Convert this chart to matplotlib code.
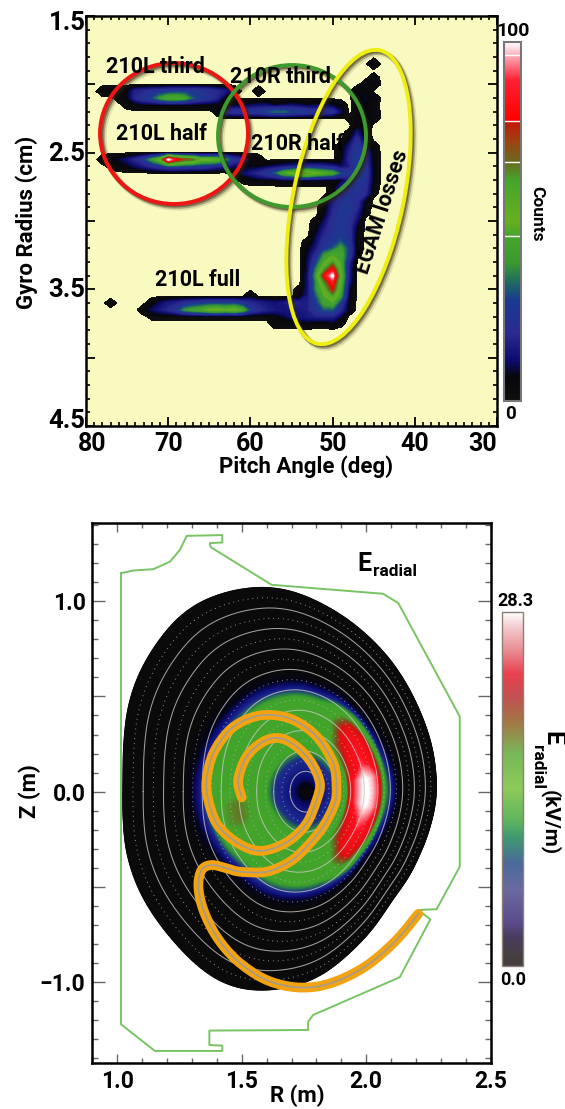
import numpy as np
import matplotlib
matplotlib.use('Agg')
import matplotlib.pyplot as plt
from matplotlib.colors import LinearSegmentedColormap, Normalize
from matplotlib.cm import ScalarMappable
from matplotlib.patches import Ellipse, PathPatch
from matplotlib.path import Path
from matplotlib.ticker import MultipleLocator, FixedLocator
from matplotlib.transforms import ScaledTranslation

FONT = ['Roboto', 'Liberation Sans', 'DejaVu Sans']
plt.rcParams['font.family'] = FONT
plt.rcParams['font.weight'] = 'bold'

# ---------- top panel data: counts on a (pitch angle, gyro radius) grid ----------
pitch_angles = np.arange(80, 29, -1)
gyro_radii = np.round(np.arange(1.5, 4.5001, 0.05), 2)
# each row: gyro radius, first pitch angle, counts at 1 degree steps downwards
count_rows = [
    (1.85, 45, [6]),
    (1.95, 45, [3]),
    (2.00, 46, [3, 6]),
    (2.05, 78, [4, 5, 4, 6, 16, 18, 20, 22, 24, 26, 26, 26, 24, 22, 18, 14, 6, 0, 0, 4, 0, 0, 0, 0, 0, 0, 0, 0, 0, 0, 0, 6, 6]),
    (2.10, 76, [3, 6, 18, 24, 28, 38, 46, 46, 42, 30, 26, 22, 16, 4, 0, 0, 0, 0, 0, 0, 0, 0, 0, 0, 0, 0, 0, 0, 0, 4, 8, 5]),
    (2.15, 75, [3, 4, 6, 6, 6, 6, 6, 6, 6, 5, 5, 5, 5, 6, 6, 8, 10, 10, 6, 8, 10, 8, 6, 8, 10, 6, 4, 0, 3, 6, 3]),
    (2.20, 64, [3, 20, 22, 22, 24, 24, 28, 32, 32, 28, 26, 24, 22, 22, 20, 10, 0, 3, 7, 4]),
    (2.25, 48, [2, 5, 8, 4]),
    (2.30, 48, [0, 5, 5]),
    (2.35, 48, [2, 12, 3]),
    (2.40, 48, [5, 20, 5]),
    (2.45, 49, [3, 12, 24, 10, 3]),
    (2.50, 49, [4, 16, 26, 18, 4]),
    (2.55, 78, [3, 6, 8, 12, 18, 26, 38, 50, 100, 80, 70, 66, 50, 50, 48, 36, 22, 18, 6, 4, 0, 0, 0, 0, 0, 0, 0, 0, 0, 4, 18, 28, 20, 5]),
    (2.60, 77, [2, 4, 6, 10, 14, 18, 22, 26, 26, 24, 22, 22, 20, 16, 14, 10, 8, 6, 6, 8, 10, 12, 14, 16, 18, 18, 16, 14, 10, 14, 26, 22, 5]),
    (2.65, 62, [3, 10, 14, 18, 24, 30, 44, 50, 58, 58, 50, 46, 42, 28, 24, 28, 24, 5]),
    (2.70, 61, [2, 4, 6, 6, 6, 8, 8, 8, 8, 8, 6, 6, 6, 14, 26, 22, 6]),
    (2.75, 50, [3, 14, 22, 24, 20, 3]),
    (2.80, 50, [4, 16, 22, 24, 18, 2]),
    (2.85, 51, [3, 14, 22, 24, 20, 6]),
    (2.90, 51, [4, 16, 24, 26, 18, 3]),
    (2.95, 51, [6, 18, 26, 24, 14, 2]),
    (3.00, 52, [3, 10, 22, 26, 22, 10]),
    (3.05, 52, [5, 14, 22, 26, 20, 6]),
    (3.10, 52, [8, 18, 24, 26, 22, 4]),
    (3.15, 53, [3, 10, 22, 26, 30, 22, 3]),
    (3.20, 53, [6, 14, 24, 30, 40, 26, 3]),
    (3.25, 53, [8, 20, 38, 46, 44, 24, 2]),
    (3.30, 53, [10, 26, 46, 60, 44, 16]),
    (3.35, 53, [10, 34, 58, 80, 46, 14]),
    (3.40, 53, [12, 40, 80, 100, 50, 14]),
    (3.45, 53, [12, 36, 62, 84, 46, 12]),
    (3.50, 54, [3, 12, 36, 52, 76, 42, 8]),
    (3.55, 60, [6, 0, 0, 0, 0, 0, 5, 14, 30, 46, 58, 38, 6]),
    (3.60, 77, [3, 0, 0, 0, 0, 4, 10, 14, 16, 20, 22, 24, 26, 26, 26, 26, 22, 18, 16, 14, 12, 14, 18, 16, 16, 24, 42, 44, 24, 5]),
    (3.65, 73, [4, 10, 14, 18, 24, 36, 42, 44, 50, 52, 48, 52, 44, 26, 20, 16, 14, 14, 14, 14, 16, 24, 30, 30, 18, 5]),
    (3.70, 72, [2, 2, 2, 2, 2, 2, 2, 2, 2, 2, 2, 2, 2, 2, 2, 4, 8, 12, 14, 14, 16, 16, 16, 8]),
    (3.75, 57, [4, 3, 3, 4, 6, 3, 3, 6, 2]),
]
count_stops = [(0, '#101010'), (.067, '#06060c'), (.114, '#0c0c70'), (.19, '#2a2a90'), (.28, '#1a3a90'),
               (.33, '#1f6a60'), (.385, '#3a9a30'), (.46, '#45a52a'), (.50, '#66b020'), (.616, '#45a52a'),
               (.666, '#6a6a20'), (.727, '#a04010'), (.775, '#c01a08'), (.785, '#ff0000'), (.894, '#ff2030'),
               (.95, '#ff90a0'), (1, '#ffffff')]
count_bar_marks = [96.4, 78, 66.7, 46]
pitch_ticks = [80, 70, 60, 50, 40, 30]

# ---------- bottom panel data ----------
boundary_R = [2.285, 2.276, 2.256, 2.216, 2.162, 2.095, 2.027, 1.961, 1.894, 1.827, 1.694, 1.573, 1.453, 1.332, 1.239, 1.145, 1.078, 1.038, 1.024, 1.022,
              1.022, 1.031, 1.058, 1.104, 1.185, 1.292, 1.386, 1.480, 1.573, 1.653, 1.747, 1.827, 1.935, 2.028, 2.095, 2.175, 2.242, 2.276]
boundary_Z = [0.025, 0.166, 0.287, 0.429, 0.571, 0.702, 0.797, 0.875, 0.938, 0.989, 1.068, 1.085, 1.059, 1.007, 0.919, 0.761, 0.604, 0.429, 0.236, -0.026,
              -0.131, -0.289, -0.428, -0.568, -0.726, -0.883, -0.988, -1.041, -1.053, -1.041, -1.015, -0.971, -0.848, -0.726, -0.586, -0.446, -0.254, -0.096]
rho_knots = [0, .03, .07, .15, .2, .25, .3, .4, .5, .55, .58, .62, .65, .68, .72, 1]
E_background = [0, 0.5, 4, 7, 8, 12, 14, 14, 14, 13, 10, 6, 3, 1, 0, 0]
ridge_rho = [.26, .29, .33, .37, .41, .46, .50, .53, .57]
ridge_weight = [0, .45, .7, .85, 1, .88, .72, .4, 0]
ridge_angle = [-180, -165, -150, -135, -120, -90, -80, -72, -60, -45, -30, -15, 0, 15, 30, 45, 60, 72, 80, 90, 150, 165, 180]
ridge_amp = [2.5, 4, 4, 2.5, 0, 0, 0, 3, 8, 10, 12, 15, 15.3, 15, 11, 10, 8, 3, 0, 0, 0, 1, 2.5]
centre_rho = [0, .25, .5, .75, 1]
centre_R = [1.76, 1.753, 1.732, 1.698, 1.65]
ellipse_half_R = 0.63
ellipse_half_Z = 1.07
solid_surfaces = [.1, .2, .3, .4, .5, .6, .7, .8, .9]
dotted_surfaces = [.15, .25, .35, .45, .55, .65, .75, .85, .95]

orbit_R = [1.50, 1.486, 1.520, 1.587, 1.653, 1.720, 1.781, 1.814, 1.801, 1.761, 1.694, 1.613, 1.546, 1.466, 1.399, 1.366,
           1.359, 1.386, 1.453, 1.533, 1.613, 1.707, 1.801, 1.868, 1.881, 1.874, 1.827, 1.761, 1.694, 1.600, 1.493, 1.439,
           1.379, 1.339, 1.326, 1.346, 1.399, 1.479, 1.586, 1.694, 1.801, 1.908, 2.015, 2.122, 2.209]
orbit_Z = [-0.03, 0.062, 0.185, 0.263, 0.281, 0.237, 0.150, 0.045, -0.044, -0.166, -0.254, -0.303, -0.306, -0.254, -0.166, -0.044,
           0.062, 0.202, 0.325, 0.386, 0.403, 0.377, 0.290, 0.150, 0.027, -0.061, -0.184, -0.289, -0.367, -0.420, -0.420, -0.402,
           -0.385, -0.411, -0.498, -0.621, -0.761, -0.884, -0.980, -1.023, -1.023, -0.980, -0.901, -0.778, -0.642]
wall_R = [1.015, 1.064, 1.145, 1.212, 1.252, 1.279, 1.422, 1.422, 1.372, 1.375, 1.620, 2.068, 2.129, 2.376, 2.376, 2.283, 2.209,
          2.258, 2.135, 1.787, 1.767, 1.767, 1.370, 1.370, 1.422, 1.422, 1.151, 1.015, 1.015]
wall_Z = [1.147, 1.161, 1.168, 1.208, 1.270, 1.343, 1.347, 1.308, 1.305, 1.284, 1.086, 1.039, 0.990, 0.395, -0.394, -0.617, -0.621,
          -0.670, -0.974, -1.172, -1.207, -1.251, -1.254, -1.330, -1.333, -1.361, -1.361, -1.221, 1.147]
field_stops = [(0, '#0a0a0a'), (.08, '#05051c'), (.16, '#0c0c70'), (.27, '#1c2a90'), (.35, '#2a7a50'), (.41, '#3fa32b'),
               (.60, '#45a52a'), (.66, '#7a5a20'), (.72, '#e01010'), (.85, '#ff1020'), (.93, '#ff9aa5'), (1, '#ffffff')]
bar_stops = [(0, '#453f3f'), (.026, '#473f3f'), (.083, '#4a3c60'), (.12, '#5a4a8a'), (.215, '#6a6aa0'), (.29, '#4a6a9a'),
             (.365, '#3f9a70'), (.41, '#5fb45f'), (.5, '#8ccb58'), (.6, '#78b858'), (.685, '#a07a44'), (.76, '#c05050'),
             (.826, '#ea3f50'), (.89, '#e88a90'), (.96, '#f3ccd0'), (1, '#ffffff')]
E_max = 28.3

W, H = 565, 1109
fig = plt.figure(figsize=(W / 100, H / 100), dpi=100, facecolor='white')


def px_axes(l, t, r, b, **kw):
    return fig.add_axes([l / W, 1 - b / H, (r - l) / W, (b - t) / H], **kw)


def style_spines(ax, lw=1.8):
    for s in ax.spines.values():
        s.set_linewidth(lw)
        s.set_color('black')


def smooth_path(xs, ys):
    """Bezier path through the read points (Catmull-Rom control points)."""
    p = np.column_stack([xs, ys])
    q = np.vstack([p[0], p, p[-1]])
    verts = [p[0]]
    codes = [Path.MOVETO]
    for i in range(1, len(q) - 2):
        verts += [q[i] + (q[i + 1] - q[i - 1]) / 6, q[i + 1] - (q[i + 2] - q[i]) / 6, q[i + 1]]
        codes += [Path.CURVE4] * 3
    return Path(np.array(verts), codes)


# ---------- top panel ----------
ax1 = px_axes(86, 16, 497, 426, facecolor='#F9FABF')
counts = np.zeros((len(gyro_radii), len(pitch_angles)))
for r, start, vals in count_rows:
    i = int(round((r - 1.5) / 0.05))
    j0 = 80 - start
    counts[i, j0:j0 + len(vals)] = vals
cmap_counts = LinearSegmentedColormap.from_list('counts', count_stops, N=512)
cs = ax1.contourf(pitch_angles, gyro_radii, counts, levels=np.linspace(1, 100.5, 100), cmap=cmap_counts,
                  norm=Normalize(0, 100))
cs.set_edgecolor('face')
cs.set_linewidth(0.4)
ax1.set_xlim(80, 30)
ax1.set_ylim(4.5, 1.5)
ax1.xaxis.set_major_locator(FixedLocator(pitch_ticks))
ax1.xaxis.set_minor_locator(MultipleLocator(1))
ax1.yaxis.set_major_locator(MultipleLocator(0.5))
ax1.yaxis.set_minor_locator(MultipleLocator(0.1))
ax1.tick_params(which='major', direction='in', top=True, right=True, length=6.5, width=1.3, labelsize=18, pad=4)
ax1.tick_params(which='minor', direction='in', top=True, right=True, length=3, width=1.2)
ax1.tick_params(axis='y', labelleft=False)
ax1.set_xticklabels([str(p) for p in pitch_ticks])
style_spines(ax1)
lbls = ax1.get_xticklabels()
lbls[0].set_transform(lbls[0].get_transform() + ScaledTranslation(6 / 100, 0, fig.dpi_scale_trans))
lbls[-1].set_ha('right')

cax1 = px_axes(504, 42, 521, 401)
cb1 = fig.colorbar(ScalarMappable(Normalize(0, 100), cmap_counts), cax=cax1)
cb1.set_ticks([])
cb1.minorticks_off()
for v in count_bar_marks:
    cax1.axhline(v, color='white', lw=1.0)
cb1.outline.set_edgecolor('#777777')
cb1.outline.set_linewidth(1.5)

# ---------- bottom panel ----------
ax2 = px_axes(92.4, 522.7, 490.6, 1062.7, facecolor='white')
bR = np.array(boundary_R)
bZ = np.array(boundary_Z)
shape_th = np.arctan2(bZ, bR - centre_R[-1])
order = np.argsort(shape_th)
th_g = np.linspace(-np.pi, np.pi, 721)
kernel = np.ones(21) / 21


def circular_smooth(v):
    core = v[:-1]
    wrapped = np.concatenate([core[-40:], core, core[:40]])
    out = np.convolve(np.convolve(wrapped, kernel, mode='same'), kernel, mode='same')[40:-40]
    return np.append(out, out[0])


dR_g = circular_smooth(np.interp(th_g, shape_th[order], (bR - centre_R[-1])[order], period=2 * np.pi))
dZ_g = circular_smooth(np.interp(th_g, shape_th[order], bZ[order], period=2 * np.pi))
ell_r = 1 / np.sqrt((np.cos(th_g) / ellipse_half_R) ** 2 + (np.sin(th_g) / ellipse_half_Z) ** 2)
eR_g = ell_r * np.cos(th_g)
eZ_g = ell_r * np.sin(th_g)


def surface(rho, th):
    # inner surfaces are ellipses, outer ones approach the boundary that was read
    dR = rho * np.interp(th, th_g, dR_g) + (1 - rho) * np.interp(th, th_g, eR_g)
    dZ = rho * np.interp(th, th_g, dZ_g) + (1 - rho) * np.interp(th, th_g, eZ_g)
    return np.interp(rho, centre_rho, centre_R) + rho * dR, rho * dZ


rho_g = np.linspace(0, 1, 221)
RHO, TH = np.meshgrid(rho_g, th_g, indexing='ij')
RR, ZZ = surface(RHO, TH)
rho_colour = RHO * (1 + 0.2 * np.sin(TH) ** 2)
E_field = np.interp(rho_colour, rho_knots, E_background) + \
    np.interp(RHO, ridge_rho, ridge_weight) * np.interp(np.degrees(TH), ridge_angle, ridge_amp)
cmap_field = LinearSegmentedColormap.from_list('field', field_stops, N=512)
ax2.pcolormesh(RR, ZZ, E_field, cmap=cmap_field, vmin=0, vmax=E_max, shading='gouraud', zorder=1)
for rho in solid_surfaces:
    x, y = surface(np.full_like(th_g, rho), th_g)
    ax2.plot(x, y, color='#c8c4c0', lw=0.75, alpha=0.8, zorder=2)
for rho in dotted_surfaces:
    x, y = surface(np.full_like(th_g, rho), th_g)
    ax2.plot(x, y, color='#b8b8b8', lw=0.7, ls=(0, (1, 4)), alpha=0.8, zorder=2)
ax2.plot(wall_R, wall_Z, color='#78c464', lw=1.4, zorder=3, solid_joinstyle='round')
orbit_path = smooth_path(orbit_R, orbit_Z)
ax2.add_patch(PathPatch(orbit_path, fill=False, ec='#F2A30F', lw=7.0, zorder=4, capstyle='round', joinstyle='round'))
ax2.add_patch(PathPatch(orbit_path, fill=False, ec='#a29c90', lw=1.2, zorder=5, capstyle='round', joinstyle='round'))
ax2.set_xlim(0.9, 2.5)
ax2.set_ylim(-1.4226, 1.412)
ax2.xaxis.set_minor_locator(MultipleLocator(0.1))
ax2.yaxis.set_minor_locator(MultipleLocator(0.1))
ax2.tick_params(axis='x', which='major', direction='in', top=True, length=6.5, width=1.0, color='#6e6660', labelsize=16.5, pad=5)
ax2.tick_params(axis='x', which='minor', direction='in', top=True, length=3.5, width=1.0, color='#6e6660')
ax2.tick_params(axis='y', which='major', direction='in', right=True, length=9.5, width=1.0, color='#6e6660', labelsize=16.5, pad=5)
ax2.tick_params(axis='y', which='minor', direction='in', right=True, length=4, width=1.0, color='#6e6660')
ax2.set_xticks([1.0, 1.5, 2.0, 2.5])
ax2.set_xticklabels(['1.0', '1.5', '2.0', '2.5'])
ax2.set_yticks([-1.0, -0.5, 0, 0.5, 1.0])
ax2.set_yticklabels(['\u22121.0', '', '0.0', '', '1.0'])
style_spines(ax2)

cax2 = px_axes(502, 612, 522.5, 966)
cmap_bar = LinearSegmentedColormap.from_list('bar', bar_stops, N=512)
cb2 = fig.colorbar(ScalarMappable(Normalize(0, E_max), cmap_bar), cax=cax2)
cb2.set_ticks([])
cb2.minorticks_off()
cb2.outline.set_edgecolor('#8a8078')
cb2.outline.set_linewidth(1.0)

# ---------- overlay in figure pixels: rings and texts ----------
ov = fig.add_axes([0, 0, 1, 1], facecolor='none')
ov.set_xlim(0, W)
ov.set_ylim(H, 0)
ov.axis('off')
rings = [((174, 133.5), 148, 141, 0, '#EE1512'), ((292, 136), 148, 142, 0, '#3F9A2E'), ((348.5, 197), 110, 300, 12, '#EEEE12')]
for c, w, h, a, col in rings:
    for off, lw, al in [(3.5, 4.5, .12), (2.5, 3.4, .3), (1.5, 2.8, .45)]:
        ov.add_patch(Ellipse((c[0] + off, c[1] + off), w, h, angle=a, fill=False, ec='#2e2410', lw=lw, alpha=al))
for c, w, h, a, col in rings:
    ov.add_patch(Ellipse(c, w, h, angle=a, fill=False, ec=col, lw=2.8))


def T(x, y, s, size=15, rot=0, ha='center', va='center'):
    ov.text(x, y, s, fontsize=size, rotation=rot, ha=ha, va=va, color='black', fontweight='bold',
            family=FONT, rotation_mode='anchor')


T(106, 67, '210L third', 15.5, ha='left')
T(116, 134, '210L half', 15.5, ha='left')
T(230, 77, '210R third', 15.5, ha='left')
T(251, 144, '210R half', 15.5, ha='left')
T(155, 280, '210L full', 15.5, ha='left')
T(382, 212, 'EGAM losses', 15.5, rot=72)
T(67, 23, '1.5', 18.5, ha='center')
T(67, 154, '2.5', 18.5, ha='center')
T(67, 290, '3.5', 18.5, ha='center')
T(67, 421, '4.5', 18.5, ha='center')
T(27, 222, 'Gyro Radius (cm)', 16, rot=90)
T(306, 467, 'Pitch Angle (deg)', 16)
T(513, 31, '100', 14)
T(511, 414, '0', 13.5)
T(537, 214, 'Counts', 12.5, rot=-90)
T(30, 791, 'Z (m)', 16, rot=90)
T(297, 1096, 'R (m)', 16)
T(357, 564, 'E', 18, ha='left')
T(373, 571, 'radial', 12.5, ha='left')
T(515, 601, '28.3', 13)
T(513, 980, '0.0', 13)
T(552, 738, 'E', 18, rot=-90)
T(537, 767, 'radial', 12.5, rot=-90)
T(550, 823, '(kV/m)', 15, rot=-90)

fig.savefig('out.png', dpi=100)
